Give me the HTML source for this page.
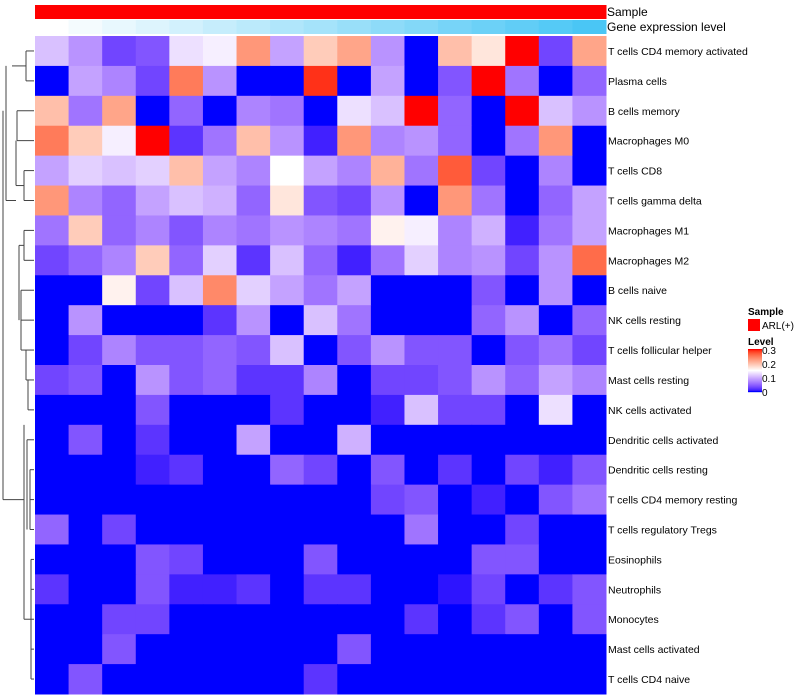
<!DOCTYPE html>
<html><head><meta charset="utf-8">
<style>
html,body{margin:0;padding:0;background:#fff;}
svg{display:block;font-family:"Liberation Sans",sans-serif;}
</style></head>
<body>
<svg id="chart" width="800" height="700" viewBox="0 0 800 700">
  <g id="dendro" stroke="#444" stroke-width="1" fill="none"></g>
  <g id="annot"></g>
  <g id="cells"></g>
  <g id="rowlabels" font-size="10.5" fill="#000"></g>
  <text x="607" y="16" font-size="12">Sample</text>
  <text x="607" y="31" font-size="12">Gene expression level</text>
  <g>
    <text x="748" y="315" font-size="10" font-weight="bold">Sample</text>
    <rect x="748" y="319" width="12" height="12" fill="#ff0000"></rect>
    <text x="762" y="329" font-size="10">ARL(+)</text>
    <text x="748" y="345" font-size="10" font-weight="bold">Level</text>
    <g id="colorbar"></g>
    <g id="legticks" font-size="10"></g>
  </g>
</svg>
<script>
const rowNames = ["T cells CD4 memory activated","Plasma cells","B cells memory","Macrophages M0","T cells CD8","T cells gamma delta","Macrophages M1","Macrophages M2","B cells naive","NK cells resting","T cells follicular helper","Mast cells resting","NK cells activated","Dendritic cells activated","Dendritic cells resting","T cells CD4 memory resting","T cells regulatory  Tregs","Eosinophils","Neutrophils","Monocytes","Mast cells activated","T cells CD4 naive"];
const r01 = [0.11,0.08,0.03,0.04,0.13,0.14,0.23,0.09,0.19,0.22,0.08,0,0.2,0.17,0.3,0.03,0.22];
const r02 = [0,0.09,0.07,0.03,0.25,0.08,0,0,0.29,0,0.09,0,0.04,0.3,0.06,0,0.05];
const r03 = [0.2,0.06,0.22,0,0.05,0,0.07,0.06,0,0.13,0.11,0.3,0.05,0,0.3,0.11,0.08];
const r04 = [0.25,0.19,0.14,0.3,0.02,0.06,0.2,0.08,0.01,0.23,0.07,0.08,0.05,0,0.06,0.23,0];
const r05 = [0.09,0.12,0.11,0.12,0.2,0.09,0.07,0.15,0.09,0.07,0.21,0.06,0.27,0.03,0,0.07,0];
const r06 = [0.23,0.07,0.05,0.09,0.11,0.1,0.05,0.17,0.04,0.03,0.08,0,0.23,0.06,0,0.05,0.09];
const r07 = [0.06,0.19,0.05,0.07,0.04,0.07,0.06,0.08,0.07,0.06,0.16,0.14,0.07,0.1,0.01,0.06,0.09];
const r08 = [0.03,0.05,0.07,0.19,0.05,0.12,0.02,0.11,0.05,0.01,0.06,0.12,0.07,0.08,0.03,0.08,0.26];
const r09 = [0,0,0.16,0.03,0.11,0.24,0.12,0.09,0.06,0.09,0,0,0,0.04,0,0.08,0];
const r10 = [0,0.08,0,0,0,0.02,0.08,0,0.11,0.06,0,0,0,0.05,0.08,0,0.05];
const r11 = [0,0.03,0.07,0.04,0.04,0.05,0.04,0.11,0,0.04,0.08,0.04,0.04,0,0.04,0.06,0.03];
const r12 = [0.03,0.04,0,0.08,0.04,0.05,0.02,0.02,0.07,0,0.03,0.03,0.04,0.08,0.05,0.09,0.07];
const r13 = [0,0,0,0.04,0,0,0,0.02,0,0,0.01,0.11,0.03,0.03,0,0.13,0];
const r14 = [0,0.04,0,0.02,0,0,0.09,0,0,0.1,0,0,0,0,0,0,0];
const r15 = [0,0,0,0.01,0.02,0,0,0.05,0.03,0,0.04,0,0.02,0,0.03,0.01,0.04];
const r16 = [0,0,0,0,0,0,0,0,0,0,0.03,0.04,0,0.01,0,0.04,0.06];
const r17 = [0.05,0,0.03,0,0,0,0,0,0,0,0,0.06,0,0,0.03,0,0];
const r18 = [0,0,0,0.04,0.03,0,0,0,0.04,0,0,0,0,0.04,0.04,0,0];
const r19 = [0.02,0,0,0.04,0.01,0.01,0.02,0,0.02,0.02,0,0,0.005,0.03,0,0.02,0.04];
const r20 = [0,0,0.03,0.03,0,0,0,0,0,0,0,0.02,0,0.02,0.04,0,0.04];
const r21 = [0,0,0.04,0,0,0,0,0,0,0.04,0,0,0,0,0,0,0];
const r22 = [0,0.04,0,0,0,0,0,0,0.02,0,0,0,0,0,0,0,0];
const values = [r01,r02,r03,r04,r05,r06,r07,r08,r09,r10,r11,r12,r13,r14,r15,r16,r17,r18,r19,r20,r21,r22];
const geneLevel = [0,1,2,3,4,5,6,7,8,9,10,11,12,13,14,15,16];
const levelTicks = [0,0.1,0.2,0.3];

const NS="http://www.w3.org/2000/svg";
const X0=35, X1=606, Y0=36, Y1=694;
const nC=17, nR=values.length;
const cw=(X1-X0)/nC, rh=(Y1-Y0)/nR;
const xPos=c=>X0+c*cw, yPos=r=>Y0+r*rh;
function mix(a,b,t){return a.map((v,i)=>Math.round(v+(b[i]-v)*t));}
// Lab interpolation (like colorRamp2)
function s2l(c){c/=255;return c<=0.04045?c/12.92:Math.pow((c+0.055)/1.055,2.4);}
function l2s(c){c=c<=0.0031308?12.92*c:1.055*Math.pow(c,1/2.4)-0.055;return Math.max(0,Math.min(255,Math.round(c*255)));}
function toLab(rgb){
  const [r,g,b]=rgb.map(s2l);
  let x=(0.4124*r+0.3576*g+0.1805*b)/0.95047, y=0.2126*r+0.7152*g+0.0722*b, z=(0.0193*r+0.1192*g+0.9505*b)/1.08883;
  const f=t=>t>0.008856?Math.cbrt(t):7.787*t+16/116;
  const fx=f(x),fy=f(y),fz=f(z);
  return [116*fy-16,500*(fx-fy),200*(fy-fz)];
}
function fromLab(lab){
  const fy=(lab[0]+16)/116, fx=fy+lab[1]/500, fz=fy-lab[2]/200;
  const fi=t=>t*t*t>0.008856?t*t*t:(t-16/116)/7.787;
  const x=fi(fx)*0.95047,y=fi(fy),z=fi(fz)*1.08883;
  const r=3.2406*x-1.5372*y-0.4986*z,g=-0.9689*x+1.8758*y+0.0415*z,b=0.0557*x-0.2040*y+1.0570*z;
  return [l2s(r),l2s(g),l2s(b)];
}
const LB=toLab([0,0,255]), LW=toLab([255,255,255]), LR=toLab([255,0,0]);
function colorOf(v){
  const t=Math.max(0,Math.min(1,v/0.3));
  const lab = t<0.5 ? LB.map((a,i)=>a+(LW[i]-a)*(t/0.5)) : LW.map((a,i)=>a+(LR[i]-a)*((t-0.5)/0.5));
  const c=fromLab(lab);
  return `rgb(${c[0]},${c[1]},${c[2]})`;
}
function el(tag,attrs,parent){const e=document.createElementNS(NS,tag);for(const k in attrs)e.setAttribute(k,attrs[k]);parent.appendChild(e);return e;}

const cells=document.getElementById('cells');
values.forEach((row,r)=>row.forEach((v,c)=>{
  const e=el('rect',{x:xPos(c),y:yPos(r),width:cw+0.5,height:rh+0.5,fill:colorOf(v)},cells);
  
  
}));
const rl=document.getElementById('rowlabels');
rowNames.forEach((n,r)=>{
  const t=el('text',{x:608,y:yPos(r)+rh/2+4},rl);
  t.textContent=n;
  
  
});
const an=document.getElementById('annot');
const maxG=Math.max(...geneLevel);
geneLevel.forEach((g,c)=>{
  const s=el('rect',{x:xPos(c),y:5,width:cw+0.5,height:14,fill:'#ff0000'},an);
  
  
  const col=mix([255,255,255],[74,198,245],g/maxG);
  const e=el('rect',{x:xPos(c),y:20,width:cw+0.5,height:14,fill:`rgb(${col})`},an);
  
  
});
const cb=document.getElementById('colorbar');
for(let i=0;i<43;i++){
  const v=0.3*(1-i/42);
  el('rect',{x:748,y:349+i,width:14,height:1.2,fill:colorOf(v)},cb);
}
const lt=document.getElementById('legticks');
levelTicks.forEach(v=>{
  const y=392-(v/0.3)*42;
  const t=el('text',{x:762,y:y+4},lt);
  t.textContent=v===0?'0':v.toFixed(1);
  
  
});
const d=document.getElementById('dendro');
const cy=r=>yPos(r)+rh/2;
const segs=[
 [26,cy(0),34,cy(0)],[26,cy(1),34,cy(1)],[26,cy(0),26,cy(1)],
 [12,(cy(0)+cy(1))/2,26,(cy(0)+cy(1))/2],
 [17,cy(2),34,cy(2)],
 [17,cy(3),34,cy(3)],[17,cy(2),17,cy(3)],
 [24,cy(4),34,cy(4)],[24,cy(5),34,cy(5)],[24,cy(4),24,cy(5)],
 [16,cy(3),16,(cy(4)+cy(5))/2],[16,(cy(4)+cy(5))/2,24,(cy(4)+cy(5))/2],
 [24,cy(6),34,cy(6)],[24,cy(7),34,cy(7)],[24,cy(6),24,cy(7)],
 [19,(cy(6)+cy(7))/2,24,(cy(6)+cy(7))/2],[19,(cy(6)+cy(7))/2,19,cy(9)],
 [21,cy(8),34,cy(8)],[21,cy(8),21,cy(10)],[21,cy(9),34,cy(9)],
 [26,cy(10),34,cy(10)],[26,cy(11),34,cy(11)],[26,cy(10),26,cy(11)],[21,cy(10),26,cy(10)],
 [28,cy(12),34,cy(12)],[28,cy(11),28,cy(12)],
 [27,cy(13),34,cy(13)],[27,cy(13),27,cy(16)],
 [30,cy(14),34,cy(14)],[30,cy(15),34,cy(15)],[30,cy(14),30,cy(16)],[30,cy(16),34,cy(16)],
 [31,cy(17),34,cy(17)],[31,cy(17),31,cy(21)],[31,cy(18),34,cy(18)],[31,cy(19),34,cy(19)],
 [31,cy(20),34,cy(20)],[31,cy(21),34,cy(21)],
 [24,(cy(12)+cy(13))/2,24,cy(19)],[24,cy(19),31,cy(19)],
 [6,(cy(0)+cy(1))/2,6,cy(5)],[6,cy(5),16,cy(5)],[3,cy(2),3,cy(15)],[3,cy(15),24,cy(15)]
];
segs.forEach(s=>{
  const l=el('line',{x1:s[0],y1:s[1],x2:s[2],y2:s[3]},d);
  
  
});
</script>
</body></html>
